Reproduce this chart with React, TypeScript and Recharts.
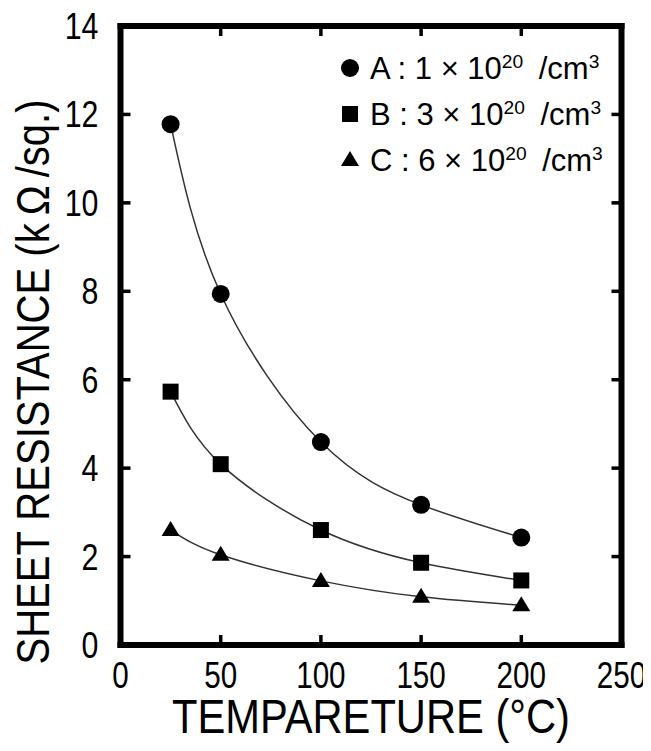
import React from "react";
import { LineChart, Line, XAxis, YAxis, Legend } from "recharts";

// temperature (°C) and sheet resistance (kΩ/sq.)
const temps = [25, 50, 100, 150, 200];
const resA = [11.78, 7.94, 4.59, 3.17, 2.43];
const resB = [5.73, 4.09, 2.6, 1.86, 1.46];
const resC = [2.6, 2.04, 1.45, 1.09, 0.9];

const xTicks = [0, 50, 100, 150, 200, 250];
const yTicks = [0, 2, 4, 6, 8, 10, 12, 14];
const xInnerTicks = [50, 100, 150, 200];
const yInnerTicks = [2, 4, 6, 8, 10, 12];

const series = [
  { key: "A", conc: "1", shape: "circle" },
  { key: "B", conc: "3", shape: "square" },
  { key: "C", conc: "6", shape: "triangle" },
];

const data = temps.map((t, i) => ({ t, A: resA[i], B: resB[i], C: resC[i] }));

const FONT = '"Liberation Sans", Arial, Helvetica, sans-serif';
const W = 643;
const H = 735;
const X_MAX = 250;
const Y_MAX = 14;
const PLOT_L = 112.5;
const PLOT_T = 18;
const PLOT_W = 501;
const PLOT_H = 619;
const TICK_PX = 10;
const FRAME_PX = 6;
const TICK_W = 3.5;

function Marker({ shape, cx, cy }: { shape: string; cx: number; cy: number }) {
  if (shape === "circle") return <circle cx={cx} cy={cy} r={9} fill="#000" />;
  if (shape === "square") return <rect x={cx - 8} y={cy - 8} width={16} height={16} fill="#000" />;
  return <polygon points={`${cx - 9},${cy + 6} ${cx + 9},${cy + 6} ${cx},${cy - 9}`} fill="#000" />;
}

const makeDot = (shape: string) => (p: any) => (
  <Marker key={`${shape}-${p.index}`} shape={shape} cx={p.cx} cy={p.cy} />
);

const XTick = (props: any) => {
  const { x, y, payload } = props;
  return (
    <text
      transform={`translate(${x},${y + 35}) scale(0.8,1)`}
      textAnchor="middle"
      fontSize={37}
      fontFamily={FONT}
      fill="#000"
    >
      {payload.value}
    </text>
  );
};

const YTick = (props: any) => {
  const { x, y, payload } = props;
  return (
    <text
      transform={`translate(${x - 14},${y + 13}) scale(0.82,1)`}
      textAnchor="end"
      fontSize={37}
      fontFamily={FONT}
      fill="#000"
    >
      {payload.value}
    </text>
  );
};

const XTitle = () => (
  <text
    x={363}
    y={725}
    textAnchor="middle"
    fontSize={48}
    fontFamily={FONT}
    textLength={398}
    lengthAdjust="spacingAndGlyphs"
    fill="#000"
  >
    TEMPARETURE (°C)
  </text>
);

const YTitle = () => (
  <text
    transform="translate(41,374) rotate(-90)"
    textAnchor="middle"
    fontSize={47}
    fontFamily={FONT}
    textLength={565}
    lengthAdjust="spacingAndGlyphs"
    fill="#000"
  >
    SHEET RESISTANCE (k{"\u2009"}Ω{"\u2009"}/sq.)
  </text>
);

const LegendBox = () => (
  <div style={{ fontFamily: FONT, fontSize: 31, color: "#000" }}>
    {series.map((s) => (
      <div key={s.key} style={{ display: "flex", alignItems: "center", height: 46, lineHeight: 1 }}>
        <svg width={20} height={20} style={{ marginRight: 10 }}>
          <Marker shape={s.shape} cx={10} cy={10} />
        </svg>
        <span style={{ whiteSpace: "pre" }}>
          {`${s.key} : ${s.conc} × 10`}
          <sup style={{ fontSize: "0.62em" }}>20</sup>
          {"\u2002/cm"}
          <sup style={{ fontSize: "0.62em" }}>3</sup>
        </span>
      </div>
    ))}
  </div>
);

// thick box around the plot with inward ticks on all four sides
function Frame() {
  const sx = (v: number) => PLOT_L + (v / X_MAX) * PLOT_W;
  const sy = (v: number) => PLOT_T + PLOT_H - (v / Y_MAX) * PLOT_H;
  const bottom = PLOT_T + PLOT_H;
  const right = PLOT_L + PLOT_W;
  const h = FRAME_PX / 2;
  const t = TICK_W / 2;
  return (
    <svg
      width={W}
      height={H}
      style={{ position: "absolute", left: 0, top: 0, pointerEvents: "none" }}
    >
      <g fill="#000">
        <rect x={PLOT_L - h} y={PLOT_T - h} width={PLOT_W + FRAME_PX} height={FRAME_PX} />
        <rect x={PLOT_L - h} y={bottom - h} width={PLOT_W + FRAME_PX} height={FRAME_PX} />
        <rect x={PLOT_L - h} y={PLOT_T - h} width={FRAME_PX} height={PLOT_H + FRAME_PX} />
        <rect x={right - h} y={PLOT_T - h} width={FRAME_PX} height={PLOT_H + FRAME_PX} />
        {xInnerTicks.map((v) => (
          <g key={`x-${v}`}>
            <rect x={sx(v) - t} y={bottom - TICK_PX} width={TICK_W} height={TICK_PX} />
            <rect x={sx(v) - t} y={PLOT_T} width={TICK_W} height={TICK_PX} />
          </g>
        ))}
        {yInnerTicks.map((v) => (
          <g key={`y-${v}`}>
            <rect x={PLOT_L} y={sy(v) - t} width={TICK_PX} height={TICK_W} />
            <rect x={right - TICK_PX} y={sy(v) - t} width={TICK_PX} height={TICK_W} />
          </g>
        ))}
      </g>
    </svg>
  );
}

export default function App() {
  return (
    <div style={{ position: "relative", width: W, height: H }}>
      <LineChart
        width={W}
        height={H}
        data={data}
        margin={{ top: PLOT_T, right: W - PLOT_L - PLOT_W, bottom: 0, left: 0 }}
      >
        <XAxis
          dataKey="t"
          type="number"
          domain={[0, X_MAX]}
          ticks={xTicks}
          axisLine={false}
          tickLine={false}
          tick={<XTick />}
          height={H - PLOT_T - PLOT_H}
          label={<XTitle />}
        />
        <YAxis
          type="number"
          domain={[0, Y_MAX]}
          ticks={yTicks}
          axisLine={false}
          tickLine={false}
          tick={<YTick />}
          width={PLOT_L}
          label={<YTitle />}
        />
        <Legend
          layout="vertical"
          align="center"
          verticalAlign="middle"
          content={<LegendBox />}
          wrapperStyle={{ left: 332, top: 37, width: "auto", height: "auto" }}
        />
        {series.map((s) => (
          <Line
            key={s.key}
            dataKey={s.key}
            type="natural"
            stroke="#333"
            strokeWidth={1.5}
            dot={makeDot(s.shape)}
            activeDot={false}
            isAnimationActive={false}
          />
        ))}
      </LineChart>
      <Frame />
    </div>
  );
}
